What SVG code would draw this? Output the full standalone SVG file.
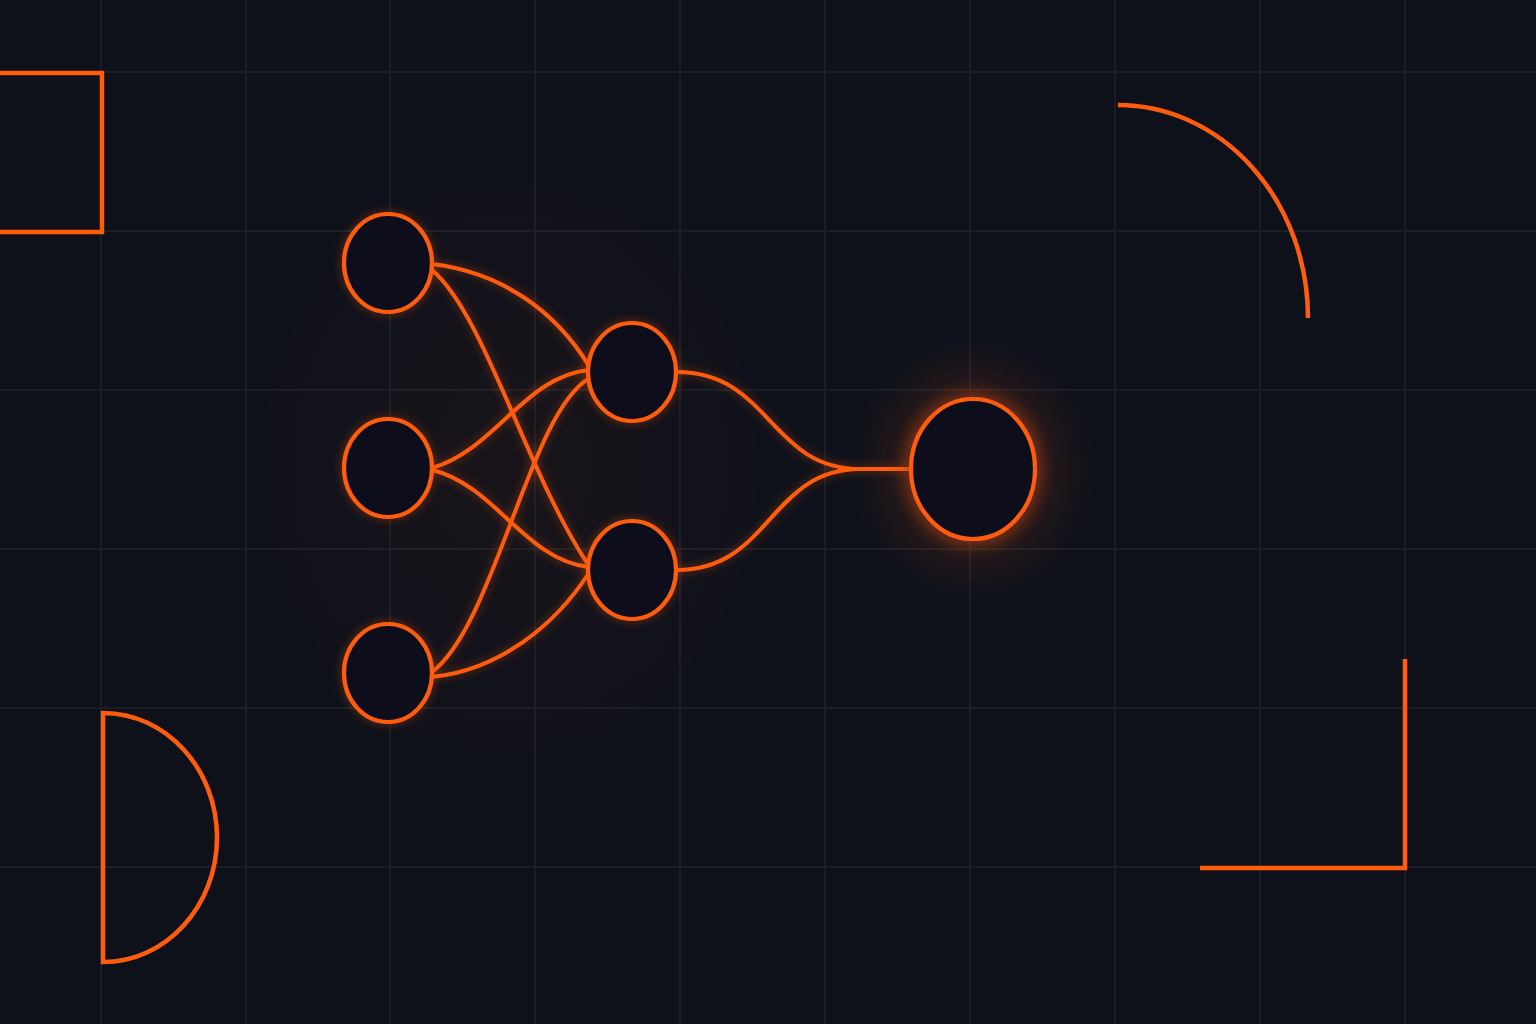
<svg xmlns="http://www.w3.org/2000/svg" width="1536" height="1024" viewBox="0 0 1536 1024">
<defs>
<style>
.grid line{stroke:#1c1e26;stroke-width:2}
.o{fill:none;stroke:#ff5c0e;stroke-width:4;stroke-linecap:round;stroke-linejoin:round}
.node{fill:#0e111b;stroke:#ff5c0e;stroke-width:4.2}
.deco{fill:none;stroke:#ff5c0e;stroke-width:4.5}
</style>
<filter id="glow" x="-50%" y="-50%" width="200%" height="200%">
<feGaussianBlur in="SourceGraphic" stdDeviation="5" result="b"/>
<feComponentTransfer in="b" result="b2"><feFuncA type="linear" slope="0.45"/></feComponentTransfer>
<feMerge><feMergeNode in="b2"/><feMergeNode in="SourceGraphic"/></feMerge>
</filter>
<filter id="glowStrong" x="-50%" y="-50%" width="200%" height="200%">
<feGaussianBlur in="SourceGraphic" stdDeviation="9" result="b"/>
<feMerge><feMergeNode in="b"/><feMergeNode in="SourceGraphic"/></feMerge>
</filter>
<radialGradient id="halo" cx="0.5" cy="0.5" r="0.5">
<stop offset="0" stop-color="#ff5c0e" stop-opacity="0.3"/>
<stop offset="0.55" stop-color="#ff5c0e" stop-opacity="0.1"/>
<stop offset="1" stop-color="#ff5c0e" stop-opacity="0"/>
</radialGradient>
<radialGradient id="halo2" cx="0.5" cy="0.5" r="0.5">
<stop offset="0" stop-color="#ff5c0e" stop-opacity="0.04"/>
<stop offset="1" stop-color="#ff5c0e" stop-opacity="0"/>
</radialGradient>
</defs>
<rect width="1536" height="1024" fill="#0f111a"/>
<g class="grid">
<line x1="101" y1="0" x2="101" y2="1024"/>
<line x1="246" y1="0" x2="246" y2="1024"/>
<line x1="390" y1="0" x2="390" y2="1024"/>
<line x1="535" y1="0" x2="535" y2="1024"/>
<line x1="680" y1="0" x2="680" y2="1024"/>
<line x1="825" y1="0" x2="825" y2="1024"/>
<line x1="970" y1="0" x2="970" y2="1024"/>
<line x1="1115" y1="0" x2="1115" y2="1024"/>
<line x1="1260" y1="0" x2="1260" y2="1024"/>
<line x1="1405" y1="0" x2="1405" y2="1024"/>
<line x1="0" y1="72" x2="1536" y2="72"/>
<line x1="0" y1="231" x2="1536" y2="231"/>
<line x1="0" y1="390" x2="1536" y2="390"/>
<line x1="0" y1="549" x2="1536" y2="549"/>
<line x1="0" y1="708" x2="1536" y2="708"/>
<line x1="0" y1="867" x2="1536" y2="867"/>
</g>
<ellipse cx="510" cy="468" rx="260" ry="300" fill="url(#halo2)"/>
<ellipse cx="973" cy="469" rx="120" ry="130" fill="url(#halo)"/>
<g id="decorations">
<path class="deco" d="M0,73 H102 V232 H0"/>
<path class="deco" d="M103,713 C166,713 217,769 217,837.5 C217,906 166,962 103,962 Z"/>
<path class="deco" d="M1118,105 A190,213 0 0 1 1308,318"/>
<path class="deco" d="M1200,868 H1405 V659"/>
</g>
<g id="connectors" filter="url(#glow)">
<path class="o" d="M432,264 C500,272 555,310 589,366"/>
<path class="o" d="M432,270 C485,315 525,470 589,566"/>
<path class="o" d="M432,468 C495,450 525,376 589,370"/>
<path class="o" d="M432,470 C495,485 525,560 589,567"/>
<path class="o" d="M432,672 C495,625 530,410 590,378"/>
<path class="o" d="M432,677 C500,670 555,625 589,573"/>
<path class="o" d="M677,372 C770,372 770,469 860,469 L908,469"/>
<path class="o" d="M677,570 C770,570 770,469 860,469 L908,469"/>
</g>
<g id="input1" filter="url(#glow)"><ellipse class="node" cx="388" cy="263" rx="44" ry="49"/></g>
<g id="input2" filter="url(#glow)"><ellipse class="node" cx="388" cy="468" rx="44" ry="49"/></g>
<g id="input3" filter="url(#glow)"><ellipse class="node" cx="388" cy="673" rx="44" ry="49"/></g>
<g id="hidden1" filter="url(#glow)"><ellipse class="node" cx="632" cy="372" rx="44" ry="49"/></g>
<g id="hidden2" filter="url(#glow)"><ellipse class="node" cx="632" cy="570" rx="44" ry="49"/></g>
<g id="output" filter="url(#glowStrong)"><ellipse class="node" cx="973" cy="469" rx="62" ry="70" stroke-width="6.5"/></g>
</svg>
